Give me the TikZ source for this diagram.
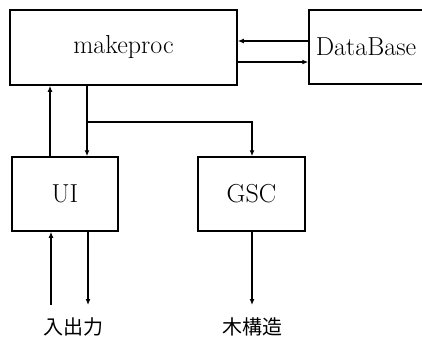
\documentclass[tikz,border=0pt]{standalone}
\usepackage{fontspec}
\newfontfamily\cjk{Noto Sans CJK JP}
\usetikzlibrary{arrows.meta}
\begin{document}
\begin{tikzpicture}[x=1pt,y=-1pt,
  box/.style={draw,line width=1.5pt,inner sep=0pt,font=\fontsize{26}{30}\selectfont},
  arr/.style={line width=1.5pt,-{Latex[length=6pt,width=5pt]}},
  lbl/.style={font=\cjk\fontsize{20}{24}\selectfont,inner sep=0pt}]
\useasboundingbox (0,0) rectangle (422,340);
\node[box,minimum width=227pt,minimum height=75pt] (mp) at (123.5,47.5) {makeproc};
\node[box,minimum width=114pt,minimum height=74pt] (db) at (366,47) {DataBase};
\node[box,minimum width=106pt,minimum height=74pt] (ui) at (65,194) {UI};
\node[box,minimum width=107pt,minimum height=74pt] (gsc) at (251.5,194) {GSC};
\coordinate (br) at (87,122);
\coordinate (in1) at (51,305);
\coordinate (out1) at (88,305);
\coordinate (out2) at (252,305);
\node[lbl] (l1) at (73,327) {入出力};
\node[lbl] (l2) at (252,327) {木構造};
\draw[arr] (db.west |- 0,41) -- (mp.east |- 0,41);
\draw[arr] (mp.east |- 0,62) -- (db.west |- 0,62);
\draw[arr] (ui.north -| 50,0) -- (mp.south -| 50,0);
\draw[arr] (mp.south -| br) -- (ui.north -| br);
\draw[arr] (br) -| (gsc.north -| out2);
\draw[arr] (in1) -- (ui.south -| in1);
\draw[arr] (ui.south -| out1) -- (out1);
\draw[arr] (gsc.south -| out2) -- (out2);
\end{tikzpicture}
\end{document}
